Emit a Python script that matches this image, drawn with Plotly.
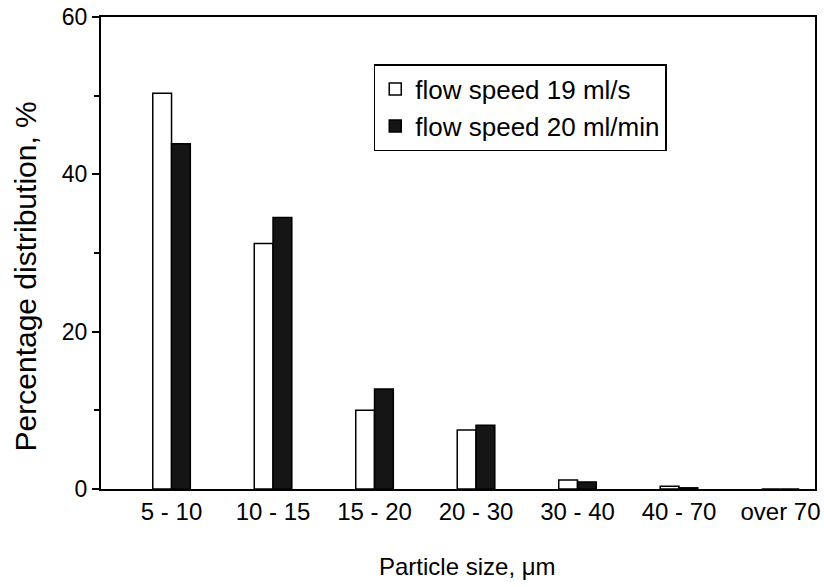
import plotly.graph_objects as go

categories = ["5 - 10", "10 - 15", "15 - 20", "20 - 30", "30 - 40", "40 - 70", "over 70"]
speed_19_mls = [50.3, 31.2, 10.0, 7.5, 1.15, 0.35, 0.0]
speed_20_mlmin = [43.9, 34.5, 12.7, 8.1, 0.9, 0.15, 0.0]
y_ticks = [0, 20, 40, 60]

xpos = list(range(len(categories)))
font_family = "Arial, Liberation Sans, Helvetica, sans-serif"

fig = go.Figure()
fig.add_trace(go.Bar(
    x=xpos, y=speed_19_mls, name="flow speed 19 ml/s",
    marker=dict(color="white", line=dict(color="black", width=1.5)),
))
fig.add_trace(go.Bar(
    x=xpos, y=speed_20_mlmin, name="flow speed 20 ml/min",
    marker=dict(color="#151515", line=dict(color="black", width=1.5)),
))

fig.update_layout(
    width=824, height=587,
    margin=dict(l=101, r=4, t=15, b=98),
    paper_bgcolor="white", plot_bgcolor="white",
    barmode="group", bargap=0.63, bargroupgap=0,
    font=dict(family=font_family, size=20, color="black"),
    legend=dict(
        x=0.382, y=0.9, xanchor="left", yanchor="top",
        bordercolor="black", borderwidth=1.5, bgcolor="white",
        font=dict(size=26),
    ),
    showlegend=True,
    annotations=[
        dict(text="Percentage distribution, %", textangle=-90,
             xref="paper", yref="paper", x=(25 - 101) / 719, y=(489 - 276) / 474,
             xanchor="center", yanchor="middle", showarrow=False,
             font=dict(size=30)),
        dict(text="Particle size, μm",
             xref="paper", yref="paper", x=(470 - 101) / 719, y=(489 - 567) / 474,
             xanchor="center", yanchor="middle", showarrow=False,
             font=dict(size=24)),
    ],
)
fig.update_xaxes(
    range=[-0.695, 6.34],
    tickmode="array", tickvals=xpos, ticktext=categories,
    showline=True, linecolor="black", linewidth=2, mirror=True,
    ticks="", showgrid=False, zeroline=False,
    tickfont=dict(size=24),
)
fig.update_yaxes(
    range=[0, 60],
    tickmode="array", tickvals=y_ticks,
    showline=True, linecolor="black", linewidth=2, mirror=True,
    ticks="outside", ticklen=7, tickwidth=1.5, tickcolor="black",
    minor=dict(tickvals=[10, 30, 50], ticks="outside", ticklen=5, tickwidth=1.5, tickcolor="black"),
    showgrid=False, zeroline=False,
    tickfont=dict(size=23),
)

fig.write_html("out.html")
